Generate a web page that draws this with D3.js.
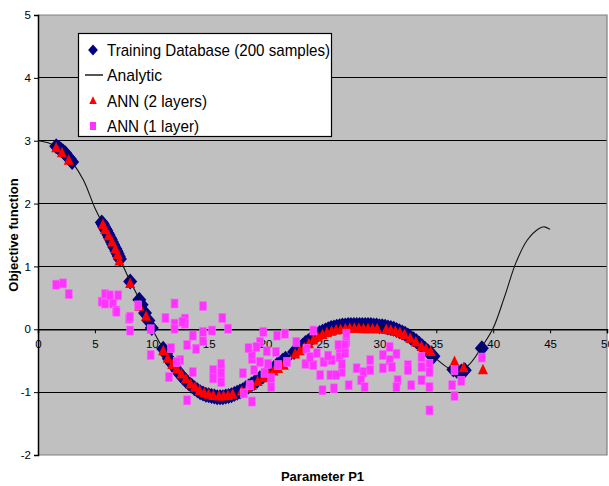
<!DOCTYPE html>
<html><head><meta charset="utf-8">
<script src="https://cdn.jsdelivr.net/npm/d3@7"></script>
<style>body{margin:0;background:#fff;} svg{display:block;font-family:"Liberation Sans",Arial,sans-serif;}</style>
</head><body><svg id="c" width="609" height="486"></svg>
<script>
// ---- data ----
const xTicks = [0,5,10,15,20,25,30,35,40,45,50];
const yTicks = [-2,-1,0,1,2,3,4,5];
const legendLabels = ["Training Database (200 samples)","Analytic","ANN (2 layers)","ANN (1 layer)"];

const analyticX = [0,1,2,3,4,5,6,7,8,9,10,11,12,13,14,15,16,17,18,19,20,21,22,23,24,25,26,27,28,29,30,31,32,33,34,35,36,37,38,39,40,41,42,43,44,44.5,45];
const analyticY = [3.00,2.96,2.86,2.66,2.37,1.93,1.57,1.20,0.80,0.44,0.02,-0.31,-0.60,-0.82,-0.97,-1.05,-1.08,-1.05,-0.97,-0.85,-0.71,-0.57,-0.43,-0.29,-0.15,-0.04,0.03,0.06,0.07,0.07,0.05,0.02,-0.05,-0.16,-0.31,-0.47,-0.61,-0.67,-0.54,-0.28,0.02,0.52,1.06,1.42,1.60,1.63,1.59];

const trainX = [1.6,1.8,2.0,2.2,2.4,2.6,2.8,3.0,
 5.6,5.7,5.8,5.9,6.0,6.1,6.2,6.3,6.4,6.5,6.6,6.7,6.8,6.9,7.0,7.1,7.2,
 8.1,8.9,9.1,9.4,9.7,10.0,
 11.0,11.25,11.5,11.75,12.0,12.25,12.5,12.75,13.0,13.25,13.5,13.75,14.0,14.25,14.5,14.75,15.0,15.25,15.5,15.75,16.0,16.25,16.5,16.75,17.0,17.25,17.5,17.75,18.0,18.25,18.5,18.75,19.0,19.25,19.5,19.75,20.0,20.25,20.5,20.75,21.0,21.25,21.5,21.75,
 22.5,22.75,23.0,23.25,23.5,23.75,24.0,24.25,24.5,24.75,25.0,25.25,25.5,25.75,26.0,26.25,26.5,26.75,27.0,27.25,27.5,27.75,28.0,28.25,28.5,28.75,29.0,29.25,29.5,29.75,30.0,30.25,30.5,30.75,31.0,31.25,31.5,31.75,32.0,32.25,32.5,32.75,33.0,33.25,33.5,33.75,34.0,34.25,34.5,34.75,
 36.5,36.8,37.2,37.5,39.0];
const trainY = [2.91,2.89,2.86,2.83,2.80,2.75,2.71,2.66,
 1.70,1.67,1.63,1.60,1.57,1.53,1.50,1.46,1.43,1.39,1.35,1.31,1.28,1.24,1.20,1.16,1.12,
 0.76,0.47,0.39,0.26,0.14,0.02,
 -0.31,-0.39,-0.47,-0.54,-0.60,-0.66,-0.72,-0.77,-0.82,-0.86,-0.90,-0.94,-0.97,-1.00,-1.02,-1.04,-1.05,-1.06,-1.07,-1.08,-1.08,-1.08,-1.07,-1.06,-1.05,-1.03,-1.01,-0.99,-0.97,-0.94,-0.91,-0.88,-0.85,-0.82,-0.78,-0.75,-0.71,-0.68,-0.64,-0.61,-0.57,-0.54,-0.50,-0.47,
 -0.36,-0.33,-0.29,-0.26,-0.22,-0.19,-0.15,-0.12,-0.09,-0.06,-0.04,-0.02,0.00,0.02,0.03,0.04,0.05,0.06,0.06,0.07,0.07,0.07,0.07,0.07,0.07,0.07,0.07,0.07,0.06,0.06,0.05,0.05,0.04,0.03,0.02,0.01,-0.01,-0.03,-0.05,-0.07,-0.10,-0.13,-0.16,-0.19,-0.23,-0.27,-0.31,-0.35,-0.39,-0.43,
 -0.64,-0.66,-0.67,-0.65,-0.30];

const ann2X = [1.6,2.1,2.7,
 5.7,5.9,6.2,6.5,6.8,7.0,7.15,8.1,8.9,9.5,
 11.0,11.4,11.8,12.2,12.6,13.0,13.4,13.8,14.2,14.6,15.0,15.4,15.9,16.3,16.7,17.1,17.9,18.4,18.8,19.3,19.8,20.3,20.7,21.1,21.6,
 22.6,23.0,23.4,23.8,24.2,24.6,25.0,25.4,25.8,26.2,26.6,27.0,27.4,27.8,28.2,28.6,29.0,29.4,29.8,30.6,31.0,31.4,31.8,32.2,32.7,33.2,33.7,34.1,34.5,
 36.6,37.4,39.1];
const ann2Y = [2.88,2.80,2.68,
 1.66,1.58,1.48,1.38,1.27,1.18,1.08,0.72,0.36,0.20,
 -0.35,-0.47,-0.57,-0.64,-0.72,-0.80,-0.88,-0.93,-0.98,-1.02,-1.04,-1.06,-1.07,-1.07,-1.06,-1.04,-0.99,-0.94,-0.90,-0.84,-0.78,-0.72,-0.67,-0.63,-0.58,
 -0.40,-0.35,-0.30,-0.24,-0.18,-0.13,-0.09,-0.06,-0.04,-0.02,-0.01,0.00,0.01,0.01,0.01,0.00,0.00,0.00,0.00,-0.01,-0.02,-0.04,-0.06,-0.09,-0.15,-0.21,-0.28,-0.32,-0.36,
 -0.52,-0.62,-0.65];

const ann1X = [1.6,2.2,2.7,
 5.6,5.9,5.9,6.3,6.6,6.85,6.9,7.05,
 8.0,8.1,8.1,8.8,9.9,9.9,
 11.2,12.0,12.0,12.0,12.9,12.9,12.7,14.5,13.6,14.5,14.5,13.1,13.9,11.7,12.5,12.2,13.6,11.5,15.3,16.2,16.7,15.4,15.4,16.1,16.1,16.1,18.0,18.6,13.1,18.8,18.1,19.0,18.8,18.8,19.8,19.5,20.1,20.9,21.0,21.7,19.5,20.2,19.9,20.5,20.5,21.1,21.9,18.5,19.2,
 22.7,23.6,24.2,23.5,24.2,25.1,25.8,24.8,25.7,25.0,26.0,26.5,26.7,27.1,23.9,24.5,25.5,
 27.1,26.4,26.97,26.5,27.0,26.7,26.2,27.3,28.0,28.6,28.4,28.7,29.2,29.2,30.3,30.3,30.9,31.5,30.9,31.1,32.5,32.5,31.6,31.5,32.8,33.7,33.7,33.7,34.4,34.4,34.4,34.4,
 36.6,39.0,36.4,36.6,37.2];
const ann1Y = [0.71,0.73,0.56,
 0.44,0.56,0.41,0.54,0.41,0.30,0.28,0.54,
 0.17,-0.02,0.20,0.38,0.00,-0.41,
 0.18,0.41,0.09,0.01,0.17,0.09,0.12,0.37,-0.10,-0.04,-0.19,-0.25,-0.31,-0.30,-0.49,-0.52,-0.68,-0.76,-0.02,0.18,0.01,-0.65,-0.78,-0.55,-0.69,-0.84,-0.70,-0.89,-1.13,-1.15,-1.02,-0.65,-0.47,-0.40,-0.04,-0.20,-0.35,-0.36,-0.10,-0.07,-0.52,-0.55,-0.69,-0.78,-0.92,-0.57,-0.52,-0.30,-0.28,
 -0.20,-0.31,-0.02,-0.55,-0.57,-0.52,-0.49,-0.73,-0.73,-0.97,-0.94,-0.36,-0.68,-0.20,-0.44,-0.38,-0.42,
 -0.07,-0.25,-0.25,-0.44,-0.38,-0.55,-0.73,-0.89,-0.62,-0.68,-0.81,-0.92,-0.49,-0.65,-0.41,-0.62,-0.28,-0.39,-0.49,-0.60,-0.57,-0.65,-0.81,-0.92,-0.89,-0.44,-0.60,-0.81,-0.55,-0.68,-0.92,-1.29,
 -0.65,-0.45,-0.89,-1.06,-0.82];

// ---- chart ----
const svg = d3.select("#c");
const x = d3.scaleLinear().domain([0,50]).range([38,607]);
const y = d3.scaleLinear().domain([-2,5]).range([455,15]);

svg.append("rect").attr("x",x(0)).attr("y",y(5)).attr("width",x(50)-x(0)).attr("height",y(-2)-y(5)).attr("fill","#c0c0c0");

// gridlines
svg.append("g").selectAll("line").data(yTicks.filter(d=>d!==-2&&d!==5&&d!==0)).join("line")
 .attr("x1",x(0)).attr("x2",x(50)).attr("y1",d=>y(d)).attr("y2",d=>y(d)).attr("stroke","#000").attr("stroke-width",1).attr("shape-rendering","crispEdges");
// border top/right/bottom
svg.append("path").attr("d",`M${x(0)},${y(5)}H${x(50)}V${y(-2)}H${x(0)}`).attr("fill","none").attr("stroke","#808080").attr("stroke-width",1.2);

// y axis
const yAxis = svg.append("g").attr("transform",`translate(${x(0)},0)`)
 .call(d3.axisLeft(y).tickValues(yTicks).tickSize(4).tickPadding(3).tickFormat(d=>String(d)));
yAxis.select(".domain").attr("stroke","#000").attr("stroke-width",1.5);
yAxis.selectAll("text").attr("font-size","11.5px").attr("fill","#000").attr("font-family","Liberation Sans, Arial, sans-serif");

// x axis at y=0
const xAxis = svg.append("g").attr("transform",`translate(0,${y(0)})`)
 .call(d3.axisBottom(x).tickValues(xTicks).tickSize(4).tickPadding(7).tickFormat(d=>String(d)));
xAxis.select(".domain").attr("stroke","#000").attr("stroke-width",1.5);
xAxis.selectAll("text").attr("font-size","11.5px").attr("fill","#000").attr("font-family","Liberation Sans, Arial, sans-serif");

// axis titles
svg.append("text").attr("x",x(25)).attr("y",481).attr("text-anchor","middle").attr("font-weight","bold").attr("font-size","13px").text("Parameter P1");
svg.append("text").attr("transform",`translate(18,${y(1.5)}) rotate(-90)`).attr("text-anchor","middle").attr("font-weight","bold").attr("font-size","13px").text("Objective function");

// series
const diamond = "M0,-8L7,0L0,8L-7,0Z";
const tri = "M0,-6.5L5,4L-5,4Z";
const plot = svg.append("g");
plot.selectAll(".tr").data(d3.range(trainX.length)).join("path").attr("class","tr")
 .attr("d",diamond).attr("transform",i=>`translate(${x(trainX[i])},${y(trainY[i])})`).attr("fill","#000080");

const line = d3.line().x(i=>x(analyticX[i])).y(i=>y(analyticY[i])).curve(d3.curveCatmullRom);
plot.append("path").attr("d",line(d3.range(analyticX.length))).attr("fill","none").attr("stroke","#111").attr("stroke-width",1.1);

plot.selectAll(".a2").data(d3.range(ann2X.length)).join("path").attr("class","a2")
 .attr("d",tri).attr("transform",i=>`translate(${x(ann2X[i])},${y(ann2Y[i])})`).attr("fill","#ff0000");

plot.selectAll(".a1").data(d3.range(ann1X.length)).join("rect").attr("class","a1")
 .attr("x",i=>x(ann1X[i])-3.5).attr("y",i=>y(ann1Y[i])-4.5).attr("width",7).attr("height",9)
 .attr("fill","#ff33ff").attr("stroke","#ff66ff").attr("stroke-width",0.6);

// legend
const lg = svg.append("g");
lg.append("rect").attr("x",78.5).attr("y",33.5).attr("width",253).attr("height",103).attr("fill","#fff").attr("stroke","#000").attr("stroke-width",1.2);
const rowY = [50,75,101,126];
const widths = [223,55,100,92];
lg.append("path").attr("d",diamond).attr("transform",`translate(93,${rowY[0]}) scale(0.7)`).attr("fill","#000080");
lg.append("line").attr("x1",85).attr("x2",103).attr("y1",rowY[1]).attr("y2",rowY[1]).attr("stroke","#555").attr("stroke-width",2);
lg.append("path").attr("d",tri).attr("transform",`translate(93,${rowY[2]}) scale(0.75)`).attr("fill","#ff0000");
lg.append("rect").attr("x",90).attr("y",rowY[3]-4).attr("width",6).attr("height",8).attr("fill","#ff33ff");
legendLabels.forEach((t,i)=>{
  lg.append("text").attr("x",107).attr("y",rowY[i]+6).attr("font-size","17px")
   .attr("textLength",widths[i]).attr("lengthAdjust","spacingAndGlyphs").attr("fill","#000").text(t);
});
</script></body></html>
